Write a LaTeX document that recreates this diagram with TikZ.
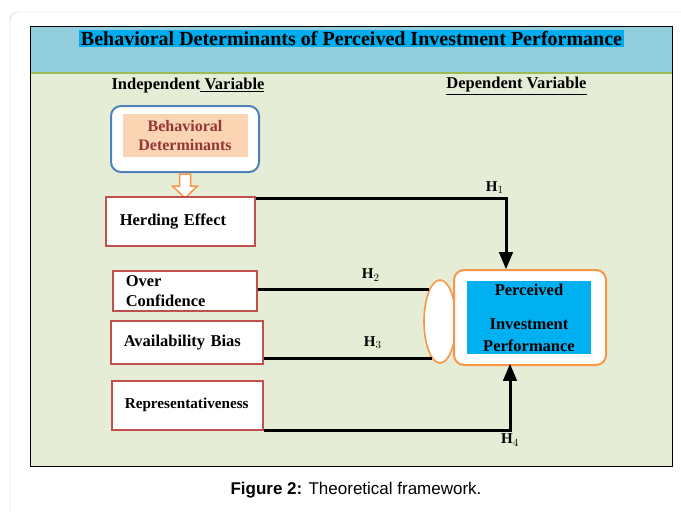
\documentclass[tikz,border=0pt]{standalone}
\usepackage{fontspec}
\setmainfont{Liberation Serif}
\newfontfamily\capfont{Liberation Sans}
\usetikzlibrary{arrows,shapes.geometric}

\definecolor{headblue}{HTML}{92CDDC}
\definecolor{bodygreen}{HTML}{E6EDD6}
\definecolor{linegreen}{HTML}{9BBB59}
\definecolor{pagegray}{HTML}{C8C8C8}
\definecolor{behblue}{HTML}{4F81BD}
\definecolor{peach}{HTML}{FBD4B4}
\definecolor{textred}{HTML}{943634}
\definecolor{boxred}{HTML}{C0504D}
\definecolor{boxorange}{HTML}{F79646}
\definecolor{perfblue}{HTML}{00B0F0}

\begin{document}
\begin{tikzpicture}[x=1pt,y=-1pt,>=triangle 45,
                txt/.style={font=\bfseries\fontsize{16.5}{18}\selectfont},
                var node/.style={draw=boxred,line width=1.6pt,fill=white,anchor=north west,
                  font=\bfseries\fontsize{16.5}{20}\selectfont,align=left,inner xsep=12pt},
                hyp/.style={font=\bfseries\fontsize{15}{17}\selectfont,inner sep=1pt},
                link/.style={line width=3pt}]
                \useasboundingbox (0,0) rectangle (681,512);

                % page and frame
                \draw[pagegray,rounded corners=8pt] (10,530) -- (10,12) -- (700,12);
                \fill[bodygreen] (30,73) rectangle (672,466);
                \fill[headblue] (30,26) rectangle (672,73);
                \draw[linegreen,line width=1.5pt] (30,73) -- (672,73);
                \draw[line width=1pt] (30,26) rectangle (672,466);

                \node[fill=cyan,inner sep=1.5pt,font=\bfseries\fontsize{20}{22}\selectfont] (title) at (351.5,38.5)
                  {Behavioral Determinants of Perceived Investment Performance};
                \node[txt] (indep) at (188,86) {Independent\underline{ Variable}};
                \node[txt] (dep) at (516.5,86) {\underline{Dependent Variable}};

                % independent side
                \node[draw=behblue,line width=2pt,rounded corners=10pt,fill=white,
                  minimum width=148,minimum height=66,anchor=north west] (beh) at (110,105) {};
                \node[fill=peach,minimum width=125,minimum height=43,text=textred,align=center,inner sep=1pt,
                  font=\bfseries\fontsize{16}{19}\selectfont] (behtxt) at ([yshift=3.5pt]beh.center)
                  {Behavioral\\Determinants};
                \draw[boxorange,line width=1.5pt,fill=white] ([xshift=-5.5pt,yshift=-1pt]beh.south)
                  -- ++(0,12) -- ++(-7,0) -- ++(12.5,12) -- ++(12.5,-12) -- ++(-7,0) -- ++(0,-12) -- cycle;

                \node[var node,minimum width=149,minimum height=49,text width=121] (herd) at (105,196) {Herding Effect};
                \node[var node,minimum width=144,minimum height=40,text width=118,inner ysep=0pt] (over) at (112,270) {Over\\Confidence};
                \node[var node,minimum width=152,minimum height=43,text width=126] (avail) at (110,320) {Availability Bias};
                \node[var node,minimum width=151,minimum height=49,text width=125,
                  font=\bfseries\fontsize{15.2}{17}\selectfont] (rep) at (111,380) {Representativeness};

                % dependent side
                \node[ellipse,draw=boxorange,line width=1.6pt,fill=white,minimum width=32,
                  minimum height=83,inner sep=0pt] (ell) at (440,321.5) {};
                \node[draw=boxorange,line width=2pt,rounded corners=10pt,fill=white,
                  minimum width=152,minimum height=95,anchor=north west] (perc) at (453,269) {};
                \node[fill=perfblue,minimum width=124,minimum height=73,align=center,inner sep=0pt,
                  font=\bfseries\fontsize{16.5}{22}\selectfont] (perctxt) at (529,317.5)
                  {Perceived\\[12pt]Investment\\Performance};

                \coordinate (p1) at (506,269);
                \coordinate (p4) at (510,364);

                % hypotheses
                \draw[link,->] ([yshift=-2pt]herd.north east) -| (p1)
                  node[hyp,pos=0.5,anchor=south east,yshift=2pt] {H$_1$};
                \draw[link] (over.east |- ell.109) -- (ell.109)
                  node[hyp,pos=0.66,above=6pt] {H$_2$};
                \draw[link] (avail.east |- ell.-103) -- (ell.-103)
                  node[hyp,pos=0.65,above=7pt] {H$_3$};
                \draw[link,->] (rep.south east) -| (p4)
                  node[hyp,pos=0.5,below=1pt] {H$_4$};

                \node[font=\capfont\fontsize{17}{19}\selectfont] (cap) at (356,490)
                  {\textbf{Figure 2:} Theoretical framework.};
                \end{tikzpicture}
\end{document}
